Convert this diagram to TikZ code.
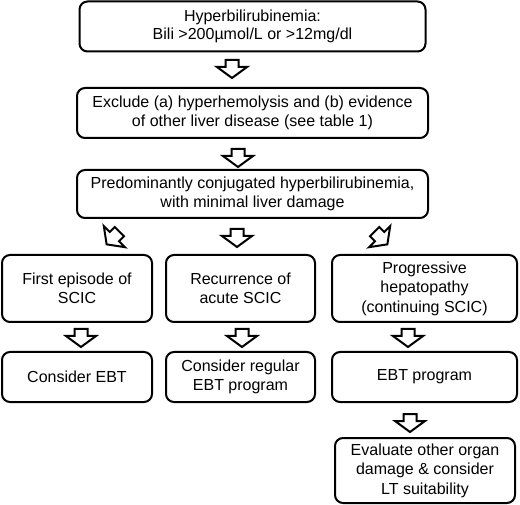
\documentclass[tikz,border=0pt]{standalone}
\usepackage{fontspec}
\setmainfont{Liberation Sans}
\begin{document}
\begin{tikzpicture}[x=1pt,y=-1pt,
  box/.style={draw=black, line width=2pt, rounded corners=8pt, fill=white,
    align=center, inner sep=0pt, text=black,
    font=\fontsize{16}{18.5}\selectfont},
  rowbox/.style={box, font=\fontsize{16}{19.5}\selectfont},
  blockarrow/.pic={\draw[line width=2pt, draw=black, fill=white, line join=miter]
    (-6.5,-9) -- (6.5,-9) -- (6.5,-2) -- (15,-2) -- (0,9) -- (-15,-2) -- (-6.5,-2) -- cycle;}]
\useasboundingbox (0,0) rectangle (520,505);
\node[box, minimum width=346pt, minimum height=50pt] (b1) at (252.5,26.5)
  {Hyperbilirubinemia:\\Bili >200µmol/L or >12mg/dl};
\node[box, minimum width=351pt, minimum height=50pt] (b2) at (252.5,113)
  {Exclude (a) hyperhemolysis and (b) evidence\\of other liver disease (see table 1)};
\node[box, minimum width=351pt, minimum height=48pt] (b3) at (252.5,194)
  {Predominantly conjugated hyperbilirubinemia,\\with minimal liver damage};
\node[rowbox, minimum width=150pt, minimum height=67pt] (a1) at (77,288.5)
  {First episode of\\SCIC};
\node[rowbox, minimum width=149pt, minimum height=67pt] (a2) at (240.5,288.5)
  {Recurrence of\\acute SCIC};
\node[rowbox, minimum width=185pt, minimum height=67pt] (a3) at (424.5,288.5)
  {Progressive\\hepatopathy\\(continuing SCIC)};
\node[rowbox, minimum width=150pt, minimum height=50pt] (c1) at (77,377)
  {Consider EBT};
\node[box, minimum width=149pt, minimum height=50pt] (c2) at (240.5,377)
  {Consider regular\\EBT program};
\node[rowbox, minimum width=185pt, minimum height=50pt] (c3) at (424.5,377)
  {EBT program};
\node[rowbox, minimum width=180pt, minimum height=65pt] (d) at (425,470.5)
  {Evaluate other organ\\damage \& consider\\LT suitability};
\pic at (232,69) {blockarrow};
\pic at (238,158) {blockarrow};
\pic[rotate=-45] at (113,238) {blockarrow};
\pic at (237,238) {blockarrow};
\pic[rotate=45] at (381,238) {blockarrow};
\pic at (81,338) {blockarrow};
\pic at (242,338) {blockarrow};
\pic at (408,338) {blockarrow};
\pic at (410,423) {blockarrow};
\end{tikzpicture}
\end{document}
